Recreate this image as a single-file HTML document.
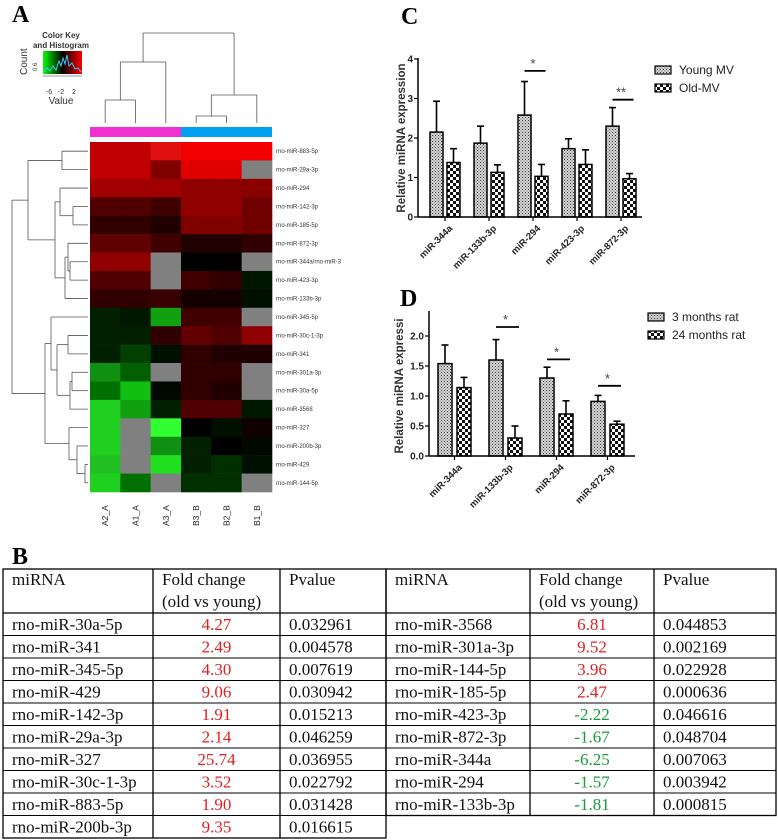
<!DOCTYPE html>
<html><head><meta charset="utf-8">
<style>
html,body{margin:0;padding:0;background:#fff;}
svg{display:block;font-family:"Liberation Sans",Arial,sans-serif;}
.serif{font-family:"Liberation Serif",serif;}
</style></head>
<body>
<svg id="fig" width="778" height="840" viewBox="0 0 778 840" xmlns="http://www.w3.org/2000/svg">
<defs>
<pattern id="pYoung" width="3" height="3" patternUnits="userSpaceOnUse">
<rect width="3" height="3" fill="#d8d8d8"/><rect width="1" height="1" fill="#333"/><rect x="1.5" y="1.5" width="1" height="1" fill="#555"/>
</pattern>
<pattern id="pOld" width="6" height="6" patternUnits="userSpaceOnUse">
<rect width="6" height="6" fill="#fff"/><rect width="3" height="3" fill="#111"/><rect x="3" y="3" width="3" height="3" fill="#111"/>
</pattern>
<linearGradient id="keyGrad" x1="0" x2="1" y1="0" y2="0">
<stop offset="0" stop-color="#00ff00"/><stop offset="0.5" stop-color="#000"/><stop offset="1" stop-color="#ff0000"/>
</linearGradient>
</defs>

<text class="serif" x="12" y="22" font-size="24" font-weight="bold">A</text>
<text class="serif" x="401" y="24" font-size="24" font-weight="bold">C</text>
<text class="serif" x="400" y="306" font-size="24" font-weight="bold">D</text>
<text class="serif" x="12" y="564" font-size="24" font-weight="bold">B</text>

<g>
<text x="61" y="38" font-size="8" font-weight="bold" text-anchor="middle" fill="#333">Color Key</text>
<text x="61" y="48" font-size="8" font-weight="bold" text-anchor="middle" fill="#333">and Histogram</text>
<rect x="43" y="51" width="39" height="23" fill="url(#keyGrad)"/>
<polyline points="44,72 47,68 50,71 53,66 56,70 59,61 61,66 63,58 65,64 67,55 69,66 72,63 75,69 78,68 81,72" fill="none" stroke="#3cf" stroke-width="1"/>
<text transform="translate(27,75) rotate(-90)" font-size="10" fill="#333">Count</text>
<text transform="translate(37,71) rotate(-90)" font-size="6" fill="#333">0  6</text>
<line x1="43" y1="76" x2="82" y2="76" stroke="#333" stroke-width="0.6"/>
<text x="49" y="94" font-size="7" text-anchor="middle" fill="#333">-6</text>
<text x="61" y="94" font-size="7" text-anchor="middle" fill="#333">-2</text>
<text x="74" y="94" font-size="7" text-anchor="middle" fill="#333">2</text>
<text x="61" y="104" font-size="10" text-anchor="middle" fill="#333">Value</text>
</g>

<rect x="90" y="127" width="91" height="10" fill="#f030d0"/>
<rect x="181" y="127" width="91" height="10" fill="#00a0f0"/>

<g id="heat"></g>
<g id="dendro" stroke="#555" stroke-width="0.8" fill="none"></g>
<g id="chartC"></g>
<g id="chartD"></g>
<g id="table"></g>
</svg>
<script>
var NS="http://www.w3.org/2000/svg";
function mk(parent,tag,attrs,text){var e=document.createElementNS(NS,tag);for(var k in attrs)e.setAttribute(k,attrs[k]);if(text!==undefined)e.textContent=text;parent.appendChild(e);return e;}

/* ---------- heatmap data ---------- */
var heatRows=["rno-miR-883-5p","rno-miR-29a-3p","rno-miR-294","rno-miR-142-3p","rno-miR-185-5p","rno-miR-872-3p","rno-miR-344a/rno-miR-3","rno-miR-423-3p","rno-miR-133b-3p","rno-miR-345-5p","rno-miR-30c-1-3p","rno-miR-341","rno-miR-301a-3p","rno-miR-30a-5p","rno-miR-3568","rno-miR-327","rno-miR-200b-3p","rno-miR-429","rno-miR-144-5p"];
var heatCols=["A2_A","A1_A","A3_A","B3_B","B2_B","B1_B"];
var heatColors=[
["#c00000","#c00000","#e01010","#f00000","#f00000","#f00000"],
["#c00000","#c00000","#800000","#e00000","#e00000","#808080"],
["#a00000","#a00000","#a00000","#900000","#900000","#8a0000"],
["#500000","#500000","#400000","#900000","#900000","#700000"],
["#300000","#300000","#200000","#800000","#800000","#700000"],
["#600000","#600000","#400000","#200000","#200000","#300000"],
["#900000","#900000","#808080","#000000","#000000","#808080"],
["#500000","#500000","#808080","#400000","#300000","#001500"],
["#300000","#300000","#380000","#150000","#150000","#001000"],
["#002000","#001800","#10a010","#400000","#400000","#808080"],
["#002000","#002000","#300000","#600000","#500000","#900000"],
["#002000","#004000","#001000","#300000","#200000","#200000"],
["#109010","#006000","#808080","#300000","#300000","#808080"],
["#007000","#10c010","#000800","#300000","#200000","#808080"],
["#20d020","#10a010","#002000","#500000","#500000","#001800"],
["#20d020","#808080","#30ff30","#000000","#001000","#100000"],
["#20d020","#808080","#109010","#002000","#000000","#000800"],
["#20c020","#808080","#20e020","#002000","#003000","#001000"],
["#20d020","#007000","#808080","#003000","#003000","#808080"]];
var HX=90,HY=142,HW=182,HH=350;
var cw=HW/heatCols.length, rh=HH/heatRows.length;
var heat=document.getElementById('heat');
heatRows.forEach(function(r,i){
  heatCols.forEach(function(c,j){
    var cell=mk(heat,'rect',{x:HX+j*cw,y:HY+i*rh,width:cw+0.3,height:rh+0.3,fill:heatColors[i][j]});
    
    
  });
  var t=mk(heat,'text',{x:HX+HW+4,y:HY+i*rh+rh/2+2,'font-size':6,fill:'#333'},r);
  
  
});
heatCols.forEach(function(c,j){
  var cx=HX+j*cw+cw/2+3;
  var t=mk(heat,'text',{transform:'translate('+cx+',526) rotate(-90)','font-size':8.5,fill:'#222'},c);
  
  
});

/* ---------- dendrograms ---------- */
var dg=document.getElementById('dendro');
function rowY(i){return HY+i*rh+rh/2;}
function colX(j){return HX+j*cw+cw/2;}
function drawRow(n){
  if(typeof n==='number') return [rowY(n),88];
  var a=drawRow(n[1]),b=drawRow(n[2]),x=n[0];
  mk(dg,'line',{x1:a[1],y1:a[0],x2:x,y2:a[0]});
  mk(dg,'line',{x1:b[1],y1:b[0],x2:x,y2:b[0]});
  mk(dg,'line',{x1:x,y1:a[0],x2:x,y2:b[0]});
  return [(a[0]+b[0])/2,x];
}
var rowTree=[12,[28,[62,0,1],[55,[60,2,[73,3,4]],[65,[68,5,[70,6,7]],8]]],
  [45,[51,9,[57,[68,10,11],[70,[72,12,13],14]]],[69,15,[77,16,[85,17,18]]]]];
drawRow(rowTree);
function drawCol(n){
  if(typeof n==='number') return [colX(n),123];
  var a=drawCol(n[1]),b=drawCol(n[2]),y=n[0];
  mk(dg,'line',{x1:a[0],y1:a[1],x2:a[0],y2:y});
  mk(dg,'line',{x1:b[0],y1:b[1],x2:b[0],y2:y});
  mk(dg,'line',{x1:a[0],y1:y,x2:b[0],y2:y});
  return [(a[0]+b[0])/2,y];
}
drawCol([33,[62,[100,0,1],2],[95,[116,3,4],5]]);

/* ---------- chart C data ---------- */
var cCats=["miR-344a","miR-133b-3p","miR-294","miR-423-3p","miR-872-3p"];
var cYoung=[2.15,1.87,2.58,1.73,2.30];
var cYoungErr=[0.78,0.43,0.85,0.25,0.47];
var cOld=[1.38,1.13,1.03,1.33,0.97];
var cOldErr=[0.35,0.19,0.30,0.37,0.13];
var cTicks=["0","1","2","3","4"];
var cSig=[{cat:2,y:3.7,label:"*"},{cat:4,y:2.97,label:"**"}];

/* ---------- chart D data ---------- */
var dCats=["miR-344a","miR-133b-3p","miR-294","miR-872-3p"];
var dYoung=[1.54,1.60,1.30,0.91];
var dYoungErr=[0.31,0.34,0.18,0.10];
var dOld=[1.14,0.30,0.70,0.53];
var dOldErr=[0.17,0.20,0.22,0.05];
var dTicks=["0.0","0.5","1.0","1.5","2.0"];
var dSig=[{cat:1,y:2.15,label:"*"},{cat:2,y:1.61,label:"*"},{cat:3,y:1.17,label:"*"}];

function barChart(g,o){
  var y=function(v){return o.y0-v*o.ppu;};
  o.cats.forEach(function(c,i){
    var gx=o.x0+i*o.step;
    [[o.a,o.aErr,'url(#pYoung)',0],[o.b,o.bErr,'url(#pOld)',o.off]].forEach(function(s){
      var bx=gx+s[3],top=y(s[0][i]),et=y(s[0][i]+s[1][i]);
      var eb=mk(g,'line',{x1:bx+o.bw/2,y1:top,x2:bx+o.bw/2,y2:et,stroke:'#000','stroke-width':1.6});
      
      
      mk(g,'line',{x1:bx+o.bw/2-3.5,y1:et,x2:bx+o.bw/2+3.5,y2:et,stroke:'#000','stroke-width':1.6});
      var r=mk(g,'rect',{x:bx,y:top,width:o.bw,height:o.y0-top,fill:s[2],stroke:'#000','stroke-width':1.5});
      
      
    });
    var tx=gx+(o.off+o.bw)/2;
    mk(g,'line',{x1:tx,y1:o.y0,x2:tx,y2:o.y0+4,stroke:'#000','stroke-width':1.2});
    var lb=mk(g,'text',{transform:'translate('+(tx+8)+','+(o.y0+12)+') rotate(-45)','text-anchor':'end','font-size':9.5,'font-weight':'bold',fill:'#222'},c);
    
    
  });
  mk(g,'line',{x1:o.ax,y1:o.y0,x2:o.xEnd,y2:o.y0,stroke:'#000','stroke-width':1.5});
  mk(g,'line',{x1:o.ax,y1:o.y0,x2:o.ax,y2:o.yTop,stroke:'#000','stroke-width':1.5});
  o.ticks.forEach(function(t){
    var ty=y(parseFloat(t));
    mk(g,'line',{x1:o.ax-4,y1:ty,x2:o.ax,y2:ty,stroke:'#000','stroke-width':1.2});
    var tl=mk(g,'text',{x:o.ax-5,y:ty+3.5,'text-anchor':'end','font-size':10,'font-weight':'bold',fill:'#222'},t);
    
    
  });
  var yl=mk(g,'text',{transform:'translate('+o.ylx+','+o.yly+') rotate(-90)','text-anchor':'middle','font-size':11.5,'font-weight':'bold',fill:'#333'},o.ylabel);
  
  
  o.sig.forEach(function(s){
    var gx=o.x0+s.cat*o.step, sy=y(s.y);
    mk(g,'line',{x1:gx+o.bw/2,y1:sy,x2:gx+o.off+o.bw/2+4,y2:sy,stroke:'#000','stroke-width':1.8});
    var st=mk(g,'text',{x:gx+(o.off+o.bw)/2,y:sy-3,'text-anchor':'middle','font-size':13,fill:'#444'},s.label);
    
    
  });
  o.legend.forEach(function(l,i){
    var ly=o.ly+i*o.lgap;
    var lr=mk(g,'rect',{x:o.lx,y:ly,width:16,height:8,fill:i?'url(#pOld)':'url(#pYoung)',stroke:'#000','stroke-width':1.2});
    
    
    var lt=mk(g,'text',{x:o.lx+24,y:ly+8,'font-size':12,fill:'#222'},l);
    
    
  });
}
barChart(document.getElementById('chartC'),{cats:cCats,a:cYoung,aErr:cYoungErr,b:cOld,bErr:cOldErr,ticks:cTicks,sig:cSig,
  y0:217,ppu:39.5,x0:430,step:44,off:17,bw:13,ax:418,xEnd:642,yTop:58,ylx:405,yly:138,ylabel:"Relative miRNA expression",
  legend:["Young MV","Old-MV"],lx:655,ly:66,lgap:18});
barChart(document.getElementById('chartD'),{cats:dCats,a:dYoung,aErr:dYoungErr,b:dOld,bErr:dOldErr,ticks:dTicks,sig:dSig,
  y0:456,ppu:60,x0:438,step:51,off:19,bw:14,ax:429,xEnd:635,yTop:311,ylx:403,yly:386,ylabel:"Relative miRNA expressi",
  legend:["3 months rat","24 months rat"],lx:648,ly:313,lgap:18});

/* ---------- table ---------- */
var tLeftNames=["rno-miR-30a-5p","rno-miR-341","rno-miR-345-5p","rno-miR-429","rno-miR-142-3p","rno-miR-29a-3p","rno-miR-327","rno-miR-30c-1-3p","rno-miR-883-5p","rno-miR-200b-3p"];
var tLeftFold=["4.27","2.49","4.30","9.06","1.91","2.14","25.74","3.52","1.90","9.35"];
var tLeftP=["0.032961","0.004578","0.007619","0.030942","0.015213","0.046259","0.036955","0.022792","0.031428","0.016615"];
var tRightNames=["rno-miR-3568","rno-miR-301a-3p","rno-miR-144-5p","rno-miR-185-5p","rno-miR-423-3p","rno-miR-872-3p","rno-miR-344a","rno-miR-294","rno-miR-133b-3p"];
var tRightFold=["6.81","9.52","3.96","2.47","-2.22","-1.67","-6.25","-1.57","-1.81"];
var tRightP=["0.044853","0.002169","0.022928","0.000636","0.046616","0.048704","0.007063","0.003942","0.000815"];
var tg=document.getElementById('table');
var TT=569,TH=613,RH=22.5;
function tbl(cols,names,fold,p){
  var bottom=TH+names.length*RH;
  var L=cols[0],R=cols[3];
  mk(tg,'rect',{x:L,y:TT,width:R-L,height:bottom-TT,fill:'none',stroke:'#000','stroke-width':1.3});
  [cols[1],cols[2]].forEach(function(cx){mk(tg,'line',{x1:cx,y1:TT,x2:cx,y2:bottom,stroke:'#000','stroke-width':1.3});});
  mk(tg,'line',{x1:L,y1:TH,x2:R,y2:TH,stroke:'#000','stroke-width':1.3});
  for(var i=1;i<names.length;i++)mk(tg,'line',{x1:L,y1:TH+i*RH,x2:R,y2:TH+i*RH,stroke:'#000','stroke-width':1});
  var st={'font-size':17,'font-family':'Liberation Serif, serif',fill:'#111'};
  function T(x,y,s,extra,name){var a={x:x,y:y};for(var k in st)a[k]=st[k];for(var k2 in extra)a[k2]=extra[k2];var t=mk(tg,'text',a,s);
    
    }
  T(L+9,TT+16,"miRNA",{},'table-header');
  T(cols[1]+9,TT+16,"Fold change",{},'table-header');
  T(cols[1]+9,TT+38,"(old vs young)",{},'table-header');
  T(cols[2]+9,TT+16,"Pvalue",{},'table-header');
  names.forEach(function(n,i){
    var yy=TH+i*RH+17;
    T(L+9,yy,n,{},'table-mirna');
    var f=parseFloat(fold[i]);
    T((cols[1]+cols[2])/2,yy,fold[i],{'text-anchor':'middle',fill:f<0?'#1a9a3a':'#e02020'},'table-fold-change');
    T(cols[2]+9,yy,p[i],{},'table-pvalue');
  });
}
tbl([3,153,280,386],tLeftNames,tLeftFold,tLeftP);
tbl([386,530,654,776],tRightNames,tRightFold,tRightP);
</script>
</body></html>
